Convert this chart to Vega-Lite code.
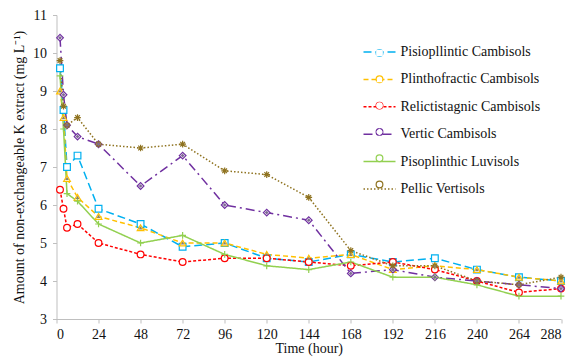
{
  "$schema": "https://vega.github.io/schema/vega-lite/v6.json",
  "width": 504.5,
  "height": 304,
  "autosize": {"type": "none"},
  "padding": {"left": 56.5, "top": 15, "right": 10, "bottom": 39},
  "config": {
    "view": {"stroke": null},
    "font": "Liberation Serif",
    "axis": {
      "grid": false,
      "domainColor": "#BFBFBF",
      "domainWidth": 1,
      "tickColor": "#BFBFBF",
      "tickSize": 4,
      "labelFont": "Liberation Serif",
      "labelFontSize": 14,
      "labelColor": "#111",
      "titleFont": "Liberation Serif",
      "titleFontSize": 14,
      "titleFontWeight": "normal",
      "titleColor": "#111"
    }
  },
  "data": {
    "values": [
      {"t": 2, "soil": "Pisiopllintic Cambisols", "v": 9.6},
      {"t": 4, "soil": "Pisiopllintic Cambisols", "v": 8.5},
      {"t": 6, "soil": "Pisiopllintic Cambisols", "v": 7.0},
      {"t": 12, "soil": "Pisiopllintic Cambisols", "v": 7.3},
      {"t": 24, "soil": "Pisiopllintic Cambisols", "v": 5.9},
      {"t": 48, "soil": "Pisiopllintic Cambisols", "v": 5.5},
      {"t": 72, "soil": "Pisiopllintic Cambisols", "v": 4.9},
      {"t": 96, "soil": "Pisiopllintic Cambisols", "v": 5.0},
      {"t": 120, "soil": "Pisiopllintic Cambisols", "v": 4.6},
      {"t": 144, "soil": "Pisiopllintic Cambisols", "v": 4.5},
      {"t": 168, "soil": "Pisiopllintic Cambisols", "v": 4.7},
      {"t": 192, "soil": "Pisiopllintic Cambisols", "v": 4.5},
      {"t": 216, "soil": "Pisiopllintic Cambisols", "v": 4.6},
      {"t": 240, "soil": "Pisiopllintic Cambisols", "v": 4.3},
      {"t": 264, "soil": "Pisiopllintic Cambisols", "v": 4.1},
      {"t": 288, "soil": "Pisiopllintic Cambisols", "v": 4.0},

      {"t": 2, "soil": "Plinthofractic Cambisols", "v": 9.0},
      {"t": 4, "soil": "Plinthofractic Cambisols", "v": 8.3},
      {"t": 6, "soil": "Plinthofractic Cambisols", "v": 6.7},
      {"t": 12, "soil": "Plinthofractic Cambisols", "v": 6.2},
      {"t": 24, "soil": "Plinthofractic Cambisols", "v": 5.7},
      {"t": 48, "soil": "Plinthofractic Cambisols", "v": 5.4},
      {"t": 72, "soil": "Plinthofractic Cambisols", "v": 5.0},
      {"t": 96, "soil": "Plinthofractic Cambisols", "v": 5.0},
      {"t": 120, "soil": "Plinthofractic Cambisols", "v": 4.7},
      {"t": 144, "soil": "Plinthofractic Cambisols", "v": 4.6},
      {"t": 168, "soil": "Plinthofractic Cambisols", "v": 4.7},
      {"t": 192, "soil": "Plinthofractic Cambisols", "v": 4.3},
      {"t": 216, "soil": "Plinthofractic Cambisols", "v": 4.4},
      {"t": 240, "soil": "Plinthofractic Cambisols", "v": 4.3},
      {"t": 264, "soil": "Plinthofractic Cambisols", "v": 4.1},
      {"t": 288, "soil": "Plinthofractic Cambisols", "v": 4.0},

      {"t": 2, "soil": "Relictistagnic Cambisols", "v": 6.4},
      {"t": 4, "soil": "Relictistagnic Cambisols", "v": 5.9},
      {"t": 6, "soil": "Relictistagnic Cambisols", "v": 5.4},
      {"t": 12, "soil": "Relictistagnic Cambisols", "v": 5.5},
      {"t": 24, "soil": "Relictistagnic Cambisols", "v": 5.0},
      {"t": 48, "soil": "Relictistagnic Cambisols", "v": 4.7},
      {"t": 72, "soil": "Relictistagnic Cambisols", "v": 4.5},
      {"t": 96, "soil": "Relictistagnic Cambisols", "v": 4.6},
      {"t": 120, "soil": "Relictistagnic Cambisols", "v": 4.6},
      {"t": 144, "soil": "Relictistagnic Cambisols", "v": 4.5},
      {"t": 168, "soil": "Relictistagnic Cambisols", "v": 4.4},
      {"t": 192, "soil": "Relictistagnic Cambisols", "v": 4.5},
      {"t": 216, "soil": "Relictistagnic Cambisols", "v": 4.3},
      {"t": 240, "soil": "Relictistagnic Cambisols", "v": 4.0},
      {"t": 264, "soil": "Relictistagnic Cambisols", "v": 3.7},
      {"t": 288, "soil": "Relictistagnic Cambisols", "v": 3.8},

      {"t": 2, "soil": "Vertic Cambisols", "v": 10.4},
      {"t": 4, "soil": "Vertic Cambisols", "v": 8.9},
      {"t": 6, "soil": "Vertic Cambisols", "v": 8.1},
      {"t": 12, "soil": "Vertic Cambisols", "v": 7.8},
      {"t": 24, "soil": "Vertic Cambisols", "v": 7.6},
      {"t": 48, "soil": "Vertic Cambisols", "v": 6.5},
      {"t": 72, "soil": "Vertic Cambisols", "v": 7.3},
      {"t": 96, "soil": "Vertic Cambisols", "v": 6.0},
      {"t": 120, "soil": "Vertic Cambisols", "v": 5.8},
      {"t": 144, "soil": "Vertic Cambisols", "v": 5.6},
      {"t": 168, "soil": "Vertic Cambisols", "v": 4.2},
      {"t": 192, "soil": "Vertic Cambisols", "v": 4.3},
      {"t": 216, "soil": "Vertic Cambisols", "v": 4.1},
      {"t": 240, "soil": "Vertic Cambisols", "v": 4.0},
      {"t": 264, "soil": "Vertic Cambisols", "v": 3.9},
      {"t": 288, "soil": "Vertic Cambisols", "v": 3.8},

      {"t": 2, "soil": "Pisoplinthic Luvisols", "v": 9.4},
      {"t": 4, "soil": "Pisoplinthic Luvisols", "v": 8.0},
      {"t": 6, "soil": "Pisoplinthic Luvisols", "v": 6.3},
      {"t": 12, "soil": "Pisoplinthic Luvisols", "v": 6.1},
      {"t": 24, "soil": "Pisoplinthic Luvisols", "v": 5.5},
      {"t": 48, "soil": "Pisoplinthic Luvisols", "v": 5.0},
      {"t": 72, "soil": "Pisoplinthic Luvisols", "v": 5.2},
      {"t": 96, "soil": "Pisoplinthic Luvisols", "v": 4.7},
      {"t": 120, "soil": "Pisoplinthic Luvisols", "v": 4.4},
      {"t": 144, "soil": "Pisoplinthic Luvisols", "v": 4.3},
      {"t": 168, "soil": "Pisoplinthic Luvisols", "v": 4.5},
      {"t": 192, "soil": "Pisoplinthic Luvisols", "v": 4.1},
      {"t": 216, "soil": "Pisoplinthic Luvisols", "v": 4.1},
      {"t": 240, "soil": "Pisoplinthic Luvisols", "v": 3.9},
      {"t": 264, "soil": "Pisoplinthic Luvisols", "v": 3.6},
      {"t": 288, "soil": "Pisoplinthic Luvisols", "v": 3.6},

      {"t": 2, "soil": "Pellic Vertisols", "v": 9.8},
      {"t": 4, "soil": "Pellic Vertisols", "v": 8.6},
      {"t": 6, "soil": "Pellic Vertisols", "v": 8.1},
      {"t": 12, "soil": "Pellic Vertisols", "v": 8.3},
      {"t": 24, "soil": "Pellic Vertisols", "v": 7.6},
      {"t": 48, "soil": "Pellic Vertisols", "v": 7.5},
      {"t": 72, "soil": "Pellic Vertisols", "v": 7.6},
      {"t": 96, "soil": "Pellic Vertisols", "v": 6.9},
      {"t": 120, "soil": "Pellic Vertisols", "v": 6.8},
      {"t": 144, "soil": "Pellic Vertisols", "v": 6.2},
      {"t": 168, "soil": "Pellic Vertisols", "v": 4.8},
      {"t": 192, "soil": "Pellic Vertisols", "v": 4.4},
      {"t": 216, "soil": "Pellic Vertisols", "v": 4.4},
      {"t": 240, "soil": "Pellic Vertisols", "v": 4.0},
      {"t": 264, "soil": "Pellic Vertisols", "v": 3.9},
      {"t": 288, "soil": "Pellic Vertisols", "v": 4.1}
    ]
  },
  "encoding": {
    "x": {
      "field": "t", "type": "quantitative", "title": "Time (hour)",
      "scale": {"domain": [0, 288], "nice": false, "zero": false},
      "axis": {"values": [0, 24, 48, 72, 96, 120, 144, 168, 192, 216, 240, 264, 288], "labelPadding": 4, "titlePadding": 0}
    },
    "y": {
      "field": "v", "type": "quantitative",
      "title": "Amount of non-exchangeable K extract (mg L⁻¹)",
      "scale": {"domain": [3, 11], "nice": false, "zero": false},
      "axis": {"values": [3, 4, 5, 6, 7, 8, 9, 10, 11], "labelPadding": 6, "titlePadding": 6}
    }
  },
  "resolve": {"scale": {"stroke": "independent", "strokeDash": "independent", "shape": "independent", "fill": "independent", "color": "independent"}},
  "layer": [
    {
      "mark": {"type": "line", "strokeWidth": 1.5},
      "encoding": {
        "order": {"field": "t", "type": "quantitative"},
        "stroke": {
          "field": "soil", "type": "nominal",
          "scale": {
            "domain": ["Pisiopllintic Cambisols", "Plinthofractic Cambisols", "Relictistagnic Cambisols", "Vertic Cambisols", "Pisoplinthic Luvisols", "Pellic Vertisols"],
            "range": ["#00B0F0", "#FFC000", "#FF0000", "#7030A0", "#92D050", "#8F7320"]
          },
          "legend": {
            "orient": "none", "legendX": 306, "legendY": 20, "title": null,
            "symbolType": "stroke", "symbolSize": 1024, "symbolStrokeWidth": 1.5,
            "labelFont": "Liberation Serif", "labelFontSize": 14, "labelColor": "#111",
            "labelOffset": 4, "rowPadding": 3.4
          }
        },
        "strokeDash": {
          "field": "soil", "type": "nominal",
          "scale": {
            "domain": ["Pisiopllintic Cambisols", "Plinthofractic Cambisols", "Relictistagnic Cambisols", "Vertic Cambisols", "Pisoplinthic Luvisols", "Pellic Vertisols"],
            "range": [[8, 4], [5, 3], [3, 2], [9, 4, 2, 4], [1, 0], [1.5, 2]]
          },
          "legend": {
            "orient": "none", "legendX": 306, "legendY": 20, "title": null,
            "symbolType": "stroke", "symbolSize": 1024, "symbolStrokeWidth": 1.5,
            "labelFont": "Liberation Serif", "labelFontSize": 14, "labelColor": "#111",
            "labelOffset": 4, "rowPadding": 3.4
          }
        }
      }
    },
    {
      "mark": {"type": "point", "size": 45, "strokeWidth": 1.2, "opacity": 1, "filled": false, "fill": "white", "fillOpacity": 1},
      "encoding": {
        "color": {
          "field": "soil", "type": "nominal",
          "sort": ["Pisiopllintic Cambisols", "Plinthofractic Cambisols", "Relictistagnic Cambisols", "Vertic Cambisols", "Pisoplinthic Luvisols", "Pellic Vertisols"],
          "scale": {
            "range": ["#00B0F0", "#FFC000", "#FF0000", "#7030A0", "#92D050", "#8F7320"]
          },
          "legend": {
            "orient": "none", "legendX": 316, "legendY": 31, "title": null,
            "symbolSize": 45, "symbolStrokeWidth": 1.2, "symbolOpacity": 1, "symbolFillColor": "white",
            "labelFont": "Liberation Serif", "labelFontSize": 14, "labelExpr": "''",
            "labelOffset": 4, "rowPadding": 12.3
          }
        },
        "shape": {
          "field": "soil", "type": "nominal",
          "sort": ["Pisiopllintic Cambisols", "Plinthofractic Cambisols", "Relictistagnic Cambisols", "Vertic Cambisols", "Pisoplinthic Luvisols", "Pellic Vertisols"],
          "scale": {
            "range": ["square", "triangle-up", "circle", "diamond", "M-1,0H1M0,-1V1", "M-1,0H1M0,-1V1M-0.7,-0.7L0.7,0.7M-0.7,0.7L0.7,-0.7"]
          },
          "legend": {
            "orient": "none", "legendX": 316, "legendY": 31, "title": null,
            "symbolSize": 45, "symbolStrokeWidth": 1.2, "symbolOpacity": 1, "symbolFillColor": "white",
            "labelFont": "Liberation Serif", "labelFontSize": 14, "labelExpr": "''",
            "labelOffset": 4, "rowPadding": 12.3
          }
        }
      }
    },
    {
      "transform": [{"filter": {"field": "soil", "oneOf": ["Plinthofractic Cambisols", "Vertic Cambisols"]}}],
      "mark": {"type": "point", "size": 14, "filled": true, "opacity": 1, "strokeWidth": 0},
      "encoding": {
        "shape": {
          "field": "soil", "type": "nominal",
          "scale": {"domain": ["Plinthofractic Cambisols", "Vertic Cambisols"], "range": ["triangle-up", "diamond"]},
          "legend": null
        },
        "fill": {
          "field": "soil", "type": "nominal",
          "scale": {"domain": ["Plinthofractic Cambisols", "Vertic Cambisols"], "range": ["#8C8466", "#7E6A92"]},
          "legend": null
        }
      }
    }
  ]
}
